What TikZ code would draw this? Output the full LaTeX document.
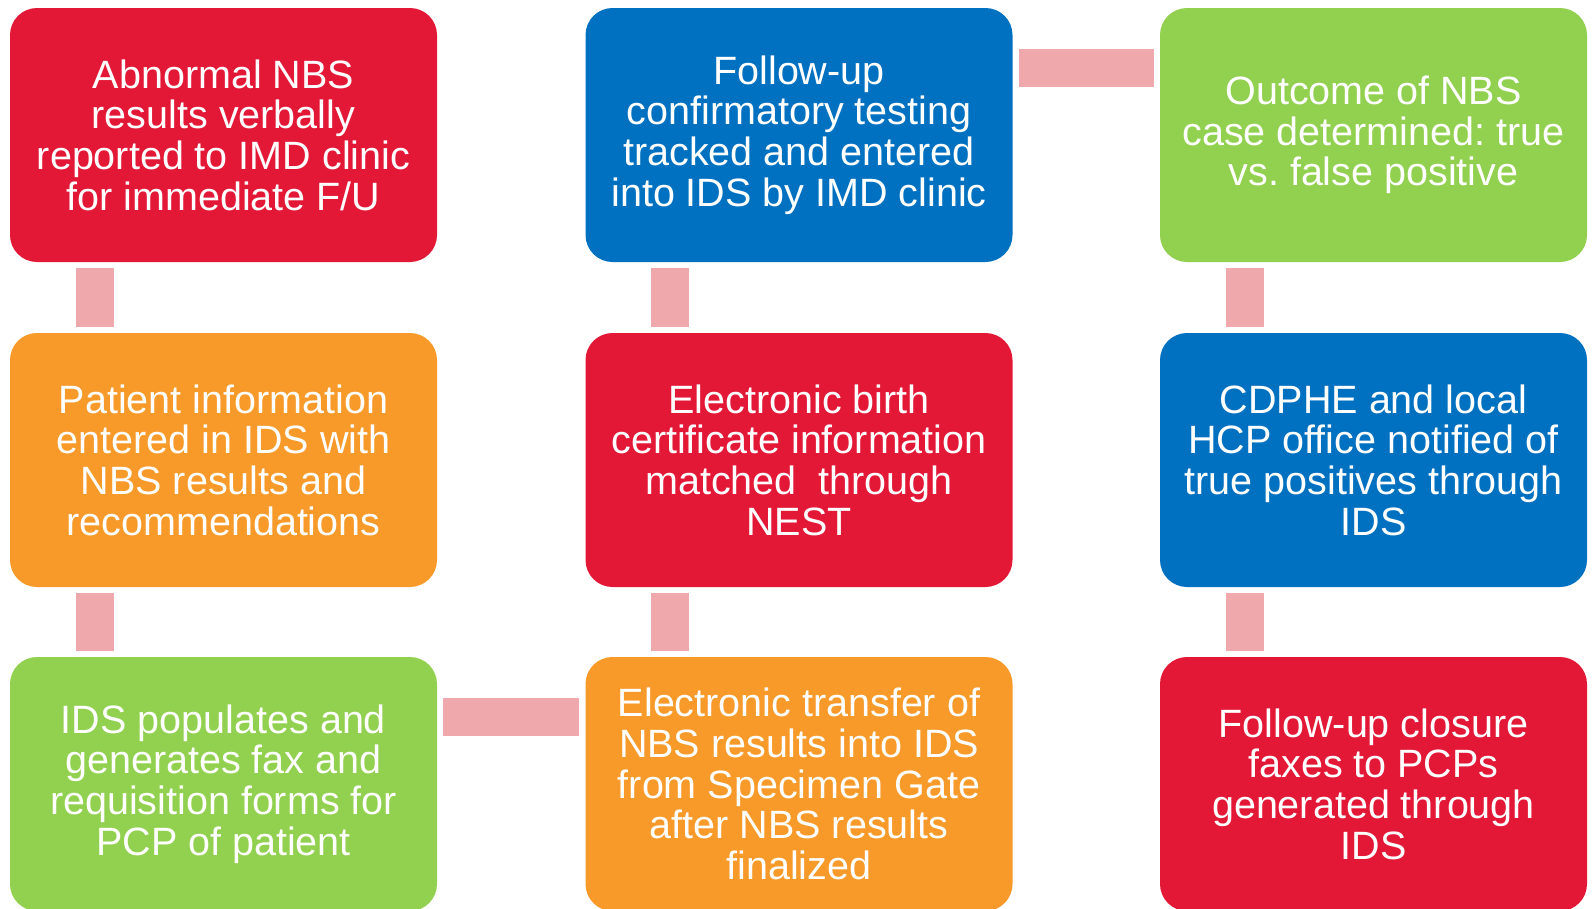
\documentclass[tikz,border=0pt]{standalone}
\usepackage{fontspec}
\setmainfont{Liberation Sans}
\usepackage{xcolor}
\usetikzlibrary{positioning,calc}
\definecolor{nbsred}{RGB}{227,24,55}
\definecolor{nbsblue}{RGB}{0,112,192}
\definecolor{nbsgreen}{RGB}{146,208,80}
\definecolor{nbsorange}{RGB}{247,154,41}
\definecolor{linkpink}{RGB}{239,169,172}
\frenchspacing

\tikzset{
    stepbox/.style={rectangle, rounded corners=27pt, minimum width=427pt, minimum height=254pt,
        inner sep=0pt, align=center, text=white, font=\fontsize{39.5}{40.6}\selectfont},
    link/.style={draw=linkpink, line width=38pt, shorten <=6pt, shorten >=6pt}
}

\begin{document}
\begin{tikzpicture}[x=1pt,y=-1pt]
    \useasboundingbox (0,0) rectangle (1592,908);

    % First column
    \node[stepbox, fill=nbsred] (a1) at (223.5,135) {Abnormal NBS\\results verbally\\reported to IMD clinic\\for immediate F/U};
    \node[stepbox, fill=nbsorange] (a2) at (223.5,460) {Patient information\\entered in IDS with\\NBS results and\\recommendations};
    \node[stepbox, fill=nbsgreen] (a3) at (223.5,784) {IDS populates and\\generates fax and\\requisition forms for\\PCP of patient};

    % Second column
    \node[stepbox, fill=nbsblue] (b1) at (799,135) {Follow-up\\confirmatory testing\\tracked and entered\\into IDS by IMD clinic};
    \node[stepbox, fill=nbsred] (b2) at (799,460) {Electronic birth\\certificate information\\matched\ \ through\\NEST};
    \node[stepbox, fill=nbsorange] (b3) at (799,784) {Electronic transfer of\\NBS results into IDS\\from Specimen Gate\\after NBS results\\finalized};

    % Third column
    \node[stepbox, fill=nbsgreen] (c1) at (1373.5,135) {Outcome of NBS\\case determined: true\\vs. false positive};
    \node[stepbox, fill=nbsblue] (c2) at (1373.5,460) {CDPHE and local\\HCP office notified of\\true positives through\\IDS};
    \node[stepbox, fill=nbsred] (c3) at (1373.5,784) {Follow-up closure\\faxes to PCPs\\generated through\\IDS};

    % Connectors
    \draw[link] ($(a1.south west)+(85.5pt,0)$) -- ($(a2.north west)+(85.5pt,0)$);
    \draw[link] ($(a2.south west)+(85.5pt,0)$) -- ($(a3.north west)+(85.5pt,0)$);
    \draw[link] ($(a3.north east)+(0,-60pt)$) -- ($(b3.north west)+(0,-60pt)$);
    \draw[link] ($(b3.north west)+(84.5pt,0)$) -- ($(b2.south west)+(84.5pt,0)$);
    \draw[link] ($(b2.north west)+(84.5pt,0)$) -- ($(b1.south west)+(84.5pt,0)$);
    \draw[link] ($(b1.north east)+(0,-60pt)$) -- ($(c1.north west)+(0,-60pt)$);
    \draw[link] ($(c1.south west)+(85.5pt,0)$) -- ($(c2.north west)+(85.5pt,0)$);
    \draw[link] ($(c2.south west)+(85.5pt,0)$) -- ($(c3.north west)+(85.5pt,0)$);
\end{tikzpicture}
\end{document}
